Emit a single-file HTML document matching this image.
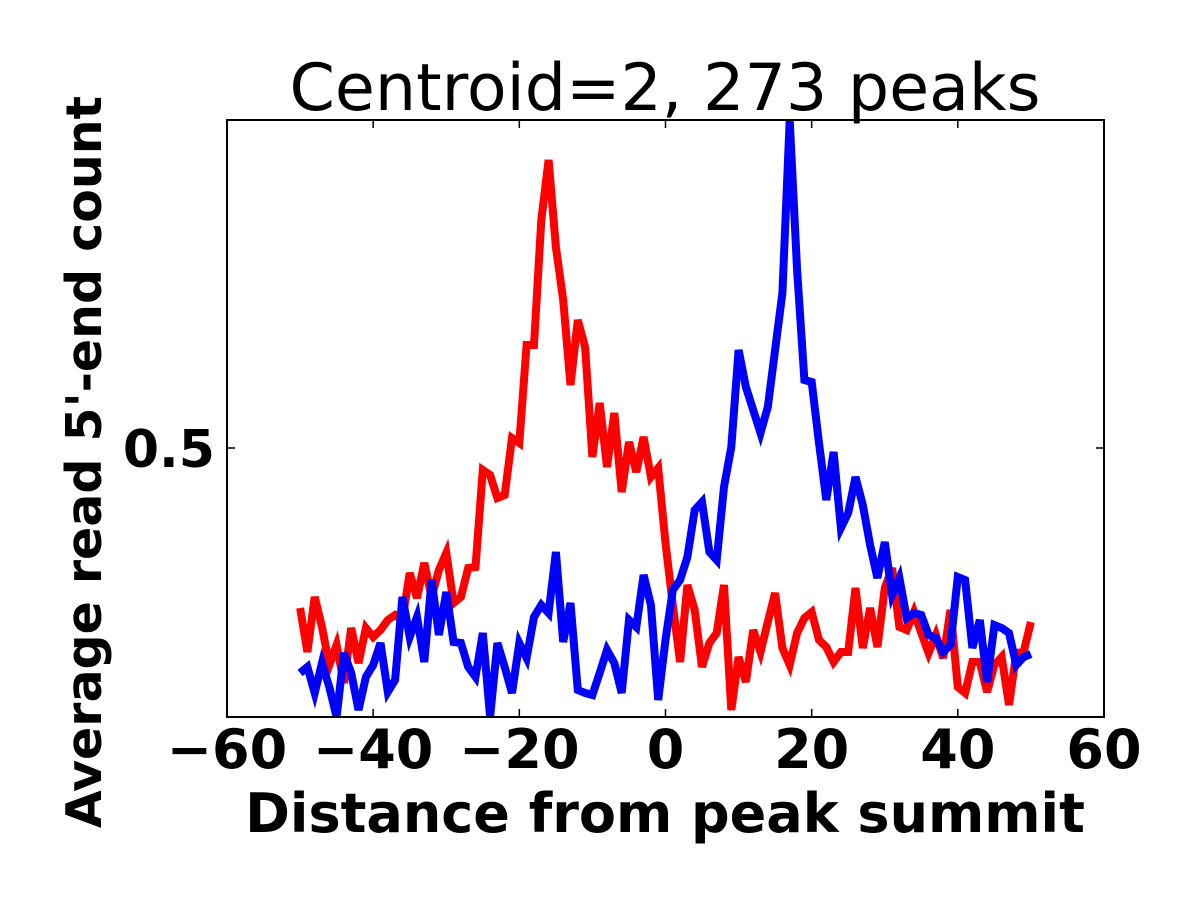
<!DOCTYPE html>
<html><head><meta charset="utf-8"><style>
body{margin:0;background:#fff}
svg text{font-family:"DejaVu Sans","Liberation Sans",sans-serif}
</style></head><body>
<svg id="chart" width="1200" height="900" viewBox="0 0 1200 900" xmlns="http://www.w3.org/2000/svg">
<defs><clipPath id="clip"><rect x="227" y="120" width="877" height="597"/></clipPath></defs>
<rect x="0" y="0" width="1200" height="900" fill="#fff"/>
<text x="665" y="110" font-size="65" text-anchor="middle">Centroid=2, 273 peaks</text>
<g id="series" clip-path="url(#clip)"></g>
<rect x="227" y="120" width="877" height="597" fill="none" stroke="#000" stroke-width="2"/>
<g id="axes"></g>
<text x="665" y="832" font-size="54" font-weight="bold" text-anchor="middle">Distance from peak summit</text>
<text transform="translate(101,462) rotate(-90)" font-size="49" font-weight="bold" text-anchor="middle">Average read 5'-end count</text>
</svg>
<script>
const xPositions = [];
for (let i = -50; i <= 50; i++) xPositions.push(i);
const redValues = [.340,.296,.351,.321,.283,.303,.265,.320,.285,.320,.311,.318,.328,.333,.328,.375,.350,.385,.351,.378,.395,.345,.351,.380,.381,.478,.473,.450,.453,.510,.505,.603,.603,.728,.788,.701,.648,.563,.628,.601,.491,.545,.481,.535,.456,.506,.476,.511,.471,.480,.405,.343,.286,.363,.338,.281,.305,.315,.363,.238,.291,.266,.318,.296,.326,.355,.300,.283,.315,.330,.336,.308,.301,.286,.296,.296,.360,.300,.340,.301,.360,.380,.321,.318,.336,.315,.295,.313,.290,.338,.261,.255,.286,.286,.256,.283,.291,.243,.295,.296,.326];
const blueValues = [.275,.281,.255,.285,.261,.231,.295,.275,.238,.271,.283,.305,.256,.268,.351,.311,.331,.286,.368,.313,.356,.306,.305,.281,.271,.315,.231,.305,.281,.255,.305,.290,.331,.343,.335,.396,.306,.345,.258,.255,.253,.275,.298,.285,.255,.328,.321,.373,.343,.248,.308,.358,.368,.391,.438,.446,.396,.388,.461,.501,.598,.561,.538,.515,.541,.598,.655,.828,.678,.568,.566,.505,.448,.496,.420,.435,.471,.443,.403,.370,.406,.353,.370,.330,.335,.333,.313,.310,.296,.303,.371,.368,.300,.328,.266,.323,.320,.315,.283,.291,.294];
const xTicks = [-60,-40,-20,0,20,40,60];
const xTickLabels = ["\u221260","\u221240","\u221220","0","20","40","60"];
const yTicks = [0.5];
const yTickLabels = ["0.5"];

const X0 = 227, X1 = 1104, Y0 = 717, Y1 = 120;
const xMin = -60, xMax = 60, yMin = 0.231, yMax = 0.828;
function xs(v){ return X0 + (v - xMin) / (xMax - xMin) * (X1 - X0); }
function ys(v){ return Y0 - (v - yMin) / (yMax - yMin) * (Y0 - Y1); }
const NS = "http://www.w3.org/2000/svg";
const series = document.getElementById('series');
function drawLine(vals, color, name){
  const p = document.createElementNS(NS, 'polyline');
  p.setAttribute('points', vals.map((v,i)=>xs(xPositions[i]).toFixed(1)+','+ys(v).toFixed(1)).join(' '));
  p.setAttribute('fill','none');
  p.setAttribute('stroke',color);
  p.setAttribute('stroke-width','8');
  p.setAttribute('stroke-linejoin','miter');
  
  
  series.appendChild(p);
}
drawLine(redValues, '#ff0000', 'red-series-line');
drawLine(blueValues, '#0000ff', 'blue-series-line');

const axes = document.getElementById('axes');
xTicks.forEach((t,i)=>{
  const x = xs(t);
  [[Y0, Y0-8],[Y1, Y1+8]].forEach(([a,b])=>{
    const l = document.createElementNS(NS,'line');
    l.setAttribute('x1',x); l.setAttribute('x2',x); l.setAttribute('y1',a); l.setAttribute('y2',b);
    l.setAttribute('stroke','#000'); l.setAttribute('stroke-width','1.5');
    
    
    axes.appendChild(l);
  });
  const tx = document.createElementNS(NS,'text');
  tx.setAttribute('x', x); tx.setAttribute('y', 768);
  tx.setAttribute('font-size','54'); tx.setAttribute('font-weight','bold'); tx.setAttribute('text-anchor','middle');
  tx.textContent = xTickLabels[i];
  
  
  axes.appendChild(tx);
});
yTicks.forEach((t,i)=>{
  const y = ys(t);
  [[X0, X0+8],[X1, X1-8]].forEach(([a,b])=>{
    const l = document.createElementNS(NS,'line');
    l.setAttribute('x1',a); l.setAttribute('x2',b); l.setAttribute('y1',y); l.setAttribute('y2',y);
    l.setAttribute('stroke','#000'); l.setAttribute('stroke-width','1.5');
    
    
    axes.appendChild(l);
  });
  const tx = document.createElementNS(NS,'text');
  tx.setAttribute('x', 215); tx.setAttribute('y', y + 19);
  tx.setAttribute('font-size','52'); tx.setAttribute('font-weight','bold'); tx.setAttribute('text-anchor','end');
  tx.textContent = yTickLabels[i];
  
  
  axes.appendChild(tx);
});
</script>
</body></html>
